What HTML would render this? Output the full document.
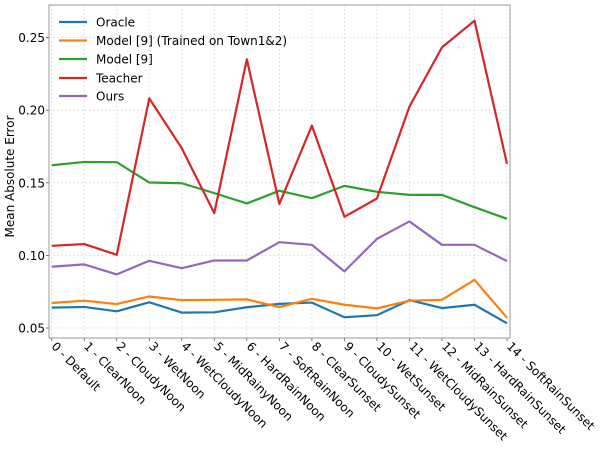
<!DOCTYPE html>
<html><head><meta charset="utf-8">
<style>
html,body{margin:0;padding:0;background:#fff;}
svg{display:block;font-family:"DejaVu Sans","Liberation Sans",sans-serif;}
</style></head>
<body>
<svg id="chart" width="605" height="454" viewBox="0 0 605 454"></svg>
<script>
const categories = ["0 - Default","1 - ClearNoon","2 - CloudyNoon","3 - WetNoon","4 - WetCloudyNoon","5 - MidRainyNoon","6 - HardRainNoon","7 - SoftRainNoon","8 - ClearSunset","9 - CloudySunset","10 - WetSunset","11 - WetCloudySunset","12 - MidRainSunset","13 - HardRainSunset","14 - SoftRainSunset"];
const oracle = [0.0640,0.0645,0.0615,0.0677,0.0606,0.0608,0.0643,0.0666,0.0675,0.0574,0.0588,0.0692,0.0637,0.0660,0.0532];
const model9Town = [0.0672,0.0688,0.0665,0.0717,0.0692,0.0694,0.0697,0.0644,0.0701,0.0660,0.0635,0.0688,0.0694,0.0832,0.0570];
const model9 = [0.1621,0.1644,0.1642,0.1502,0.1497,0.1429,0.1358,0.1445,0.1394,0.1479,0.1438,0.1417,0.1417,0.1332,0.1252];
const teacher = [0.1066,0.1078,0.1004,0.2082,0.1738,0.1291,0.2351,0.1355,0.1894,0.1266,0.1392,0.2025,0.2433,0.2617,0.1631];
const ours = [0.0922,0.0938,0.0869,0.0963,0.0912,0.0965,0.0965,0.1091,0.1073,0.0890,0.1114,0.1234,0.1073,0.1073,0.0961];
const yTicks = [0.05,0.10,0.15,0.20,0.25];
const yTickLabels = ["0.05","0.10","0.15","0.20","0.25"];
const seriesNames = ["Oracle","Model [9] (Trained on Town1&2)","Model [9]","Teacher","Ours"];

const svg = document.getElementById('chart');
const NS = 'http://www.w3.org/2000/svg';
const L=49,R=510,T=5,B=338;
const yMin=0.0431,yMax=0.2725;
const x0=51.7,x1=507;
function xs(i){return x0+(x1-x0)*i/(categories.length-1);}
function ys(v){return B-(v-yMin)/(yMax-yMin)*(B-T);}
function mk(tag,attrs,parent){const e=document.createElementNS(NS,tag);for(const k in attrs)e.setAttribute(k,attrs[k]);(parent||svg).appendChild(e);return e;}

const grid=mk('g',{});


categories.forEach((c,i)=>{
  const l=mk('line',{x1:xs(i),x2:xs(i),y1:T,y2:B,stroke:'#dcdcdc','stroke-width':0.8,'stroke-dasharray':'2,2'},grid);
  
  
});
yTicks.forEach((v,i)=>{
  const l=mk('line',{x1:L,x2:R,y1:ys(v),y2:ys(v),stroke:'#dcdcdc','stroke-width':0.8,'stroke-dasharray':'2,2'},grid);
  
  
  const tk=mk('line',{x1:L-3,x2:L,y1:ys(v),y2:ys(v),stroke:'#555','stroke-width':0.8});
  
  
  const t=mk('text',{x:L-4,y:ys(v)+4.5,'text-anchor':'end','font-size':'12',fill:'#000'});
  t.textContent=yTickLabels[i];
  
  
});
categories.forEach((c,i)=>{
  const tk=mk('line',{x1:xs(i),x2:xs(i),y1:B,y2:B+3,stroke:'#555','stroke-width':0.8});
  
  
  const t=mk('text',{x:0,y:0,'font-size':'12',fill:'#000',transform:`translate(${xs(i)-1},${B+9}) rotate(45)`});
  t.textContent=c;
  
  
});
const frame=mk('rect',{x:L,y:T,width:R-L,height:B-T,fill:'none',stroke:'#999','stroke-width':1});



const yt=mk('text',{x:0,y:0,'font-size':'12','text-anchor':'middle',transform:`translate(14,${(T+B)/2+5}) rotate(-90)`});
yt.textContent='Mean Absolute Error';



const allSeries=[oracle,model9Town,model9,teacher,ours];
const colors=['#1f77b4','#ff7f0e','#2ca02c','#d62728','#9467bd'];
const snames=['oracle-line','model9-town-line','model9-line','teacher-line','ours-line'];
allSeries.forEach((s,k)=>{
  const p=mk('polyline',{points:s.map((v,i)=>xs(i)+','+ys(v)).join(' '),fill:'none',stroke:colors[k],'stroke-width':2.2,'stroke-linejoin':'round'});
  
  
});
const leg=mk('g',{});


const legY=[22,40.5,59,78,96];
seriesNames.forEach((n,k)=>{
  const g=mk('g',{},leg);
  
  
  mk('line',{x1:59,x2:87,y1:legY[k],y2:legY[k],stroke:colors[k],'stroke-width':2.2},g);
  const t=mk('text',{x:96,y:legY[k]+4.5,'font-size':'12'},g);
  t.textContent=n;
});
</script>
</body></html>
